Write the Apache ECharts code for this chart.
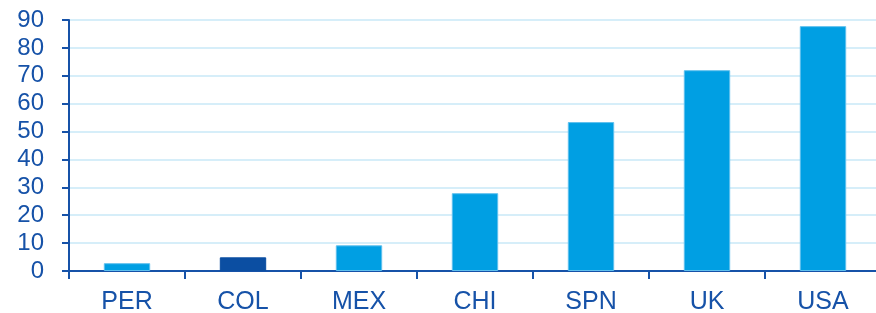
<!DOCTYPE html>
<html>
<head>
<meta charset="utf-8">
<script src="https://cdn.jsdelivr.net/npm/echarts@6/dist/echarts.min.js"></script>
<style>
  html, body { margin: 0; padding: 0; background: #fff; }
  #main { width: 876px; height: 313px; }
</style>
</head>
<body>
<div id="main"></div>
<script>
// 数据
var categories = ['PER', 'COL', 'MEX', 'CHI', 'SPN', 'UK', 'USA'];
var values = [2.8, 4.9, 9.2, 27.9, 53.4, 72.0, 87.8];
var highlight = 'COL';

var chart = echarts.init(document.getElementById('main'));

var axisColor = '#1652a8';
var barData = values.map(function (v, i) {
  var hi = categories[i] === highlight;
  return {
    value: v,
    itemStyle: {
      color: hi ? '#0b4ea2' : '#009fe3',
      borderColor: hi ? '#0b4ea2' : '#5fc0ee',
      borderWidth: 1
    }
  };
});

var option = {
  animation: false,
  grid: { left: 69, width: 812, top: 20, bottom: 42, outerBoundsMode: 'none' },
  xAxis: {
    type: 'category',
    data: categories,
    axisLine: { lineStyle: { color: axisColor, width: 2 } },
    axisTick: { show: true, length: 8, lineStyle: { color: axisColor, width: 2 } },
    axisLabel: {
      color: axisColor,
      fontFamily: 'Liberation Sans, Arial, sans-serif',
      fontSize: 25,
      margin: 19
    }
  },
  yAxis: {
    type: 'value',
    min: 0,
    max: 90,
    interval: 10,
    axisLine: { show: true, lineStyle: { color: axisColor, width: 2 } },
    axisTick: { show: true, length: 7, lineStyle: { color: axisColor, width: 2 } },
    axisLabel: {
      color: axisColor,
      fontFamily: 'Liberation Sans, Arial, sans-serif',
      fontSize: 24,
      margin: 25
    },
    splitLine: { lineStyle: { color: '#d6eef9', width: 2 } }
  },
  series: [{
    type: 'bar',
    barWidth: '40%',
    data: barData
  }]
};
chart.setOption(option);
</script>
</body>
</html>
